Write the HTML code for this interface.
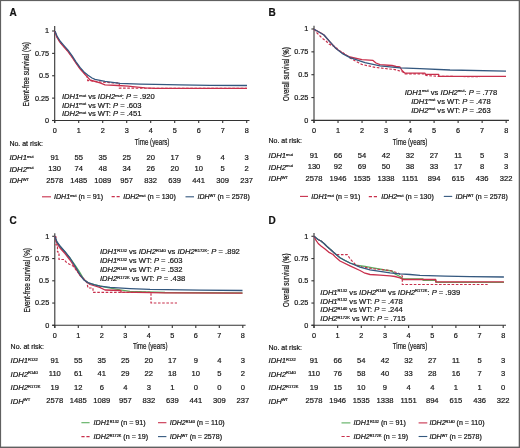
<!DOCTYPE html>
<html><head><meta charset="utf-8"><style>
html,body{margin:0;padding:0;background:#fff;}
#fig{position:relative;width:520px;height:448px;overflow:hidden;background:#fff;}
svg{position:absolute;left:0;top:0;filter:blur(0.3px);}
text{font-family:"Liberation Sans", sans-serif;stroke:#151515;stroke-width:0.2px;}
</style></head><body><div id="fig">
<svg width="520" height="448" viewBox="0 0 520 448">
<text x="9.4" y="16.4" font-size="10" font-weight="bold" fill="#111">A</text>
<line x1="54.7" y1="26.0" x2="54.7" y2="123.1" stroke="#333333" stroke-width="1.1"/>
<line x1="52.1" y1="120.5" x2="249.5" y2="120.5" stroke="#333333" stroke-width="1.1"/>
<line x1="52.1" y1="120.5" x2="54.7" y2="120.5" stroke="#333333" stroke-width="1.1"/>
<text x="49.1" y="122.90" font-size="7.3" text-anchor="end" fill="#151515">0</text>
<line x1="52.1" y1="98.125" x2="54.7" y2="98.125" stroke="#333333" stroke-width="1.1"/>
<text x="49.1" y="100.53" font-size="7.3" text-anchor="end" fill="#151515">0.25</text>
<line x1="52.1" y1="75.75" x2="54.7" y2="75.75" stroke="#333333" stroke-width="1.1"/>
<text x="49.1" y="78.15" font-size="7.3" text-anchor="end" fill="#151515">0.5</text>
<line x1="52.1" y1="53.375" x2="54.7" y2="53.375" stroke="#333333" stroke-width="1.1"/>
<text x="49.1" y="55.77" font-size="7.3" text-anchor="end" fill="#151515">0.75</text>
<line x1="52.1" y1="31.0" x2="54.7" y2="31.0" stroke="#333333" stroke-width="1.1"/>
<text x="49.1" y="33.40" font-size="7.3" text-anchor="end" fill="#151515">1</text>
<line x1="54.7" y1="120.5" x2="54.7" y2="123.1" stroke="#333333" stroke-width="1.1"/>
<text x="54.70" y="132.90" font-size="7.3" text-anchor="middle" fill="#151515">0</text>
<line x1="78.7" y1="120.5" x2="78.7" y2="123.1" stroke="#333333" stroke-width="1.1"/>
<text x="78.70" y="132.90" font-size="7.3" text-anchor="middle" fill="#151515">1</text>
<line x1="102.7" y1="120.5" x2="102.7" y2="123.1" stroke="#333333" stroke-width="1.1"/>
<text x="102.70" y="132.90" font-size="7.3" text-anchor="middle" fill="#151515">2</text>
<line x1="126.7" y1="120.5" x2="126.7" y2="123.1" stroke="#333333" stroke-width="1.1"/>
<text x="126.70" y="132.90" font-size="7.3" text-anchor="middle" fill="#151515">3</text>
<line x1="150.7" y1="120.5" x2="150.7" y2="123.1" stroke="#333333" stroke-width="1.1"/>
<text x="150.70" y="132.90" font-size="7.3" text-anchor="middle" fill="#151515">4</text>
<line x1="174.7" y1="120.5" x2="174.7" y2="123.1" stroke="#333333" stroke-width="1.1"/>
<text x="174.70" y="132.90" font-size="7.3" text-anchor="middle" fill="#151515">5</text>
<line x1="198.7" y1="120.5" x2="198.7" y2="123.1" stroke="#333333" stroke-width="1.1"/>
<text x="198.70" y="132.90" font-size="7.3" text-anchor="middle" fill="#151515">6</text>
<line x1="222.7" y1="120.5" x2="222.7" y2="123.1" stroke="#333333" stroke-width="1.1"/>
<text x="222.70" y="132.90" font-size="7.3" text-anchor="middle" fill="#151515">7</text>
<line x1="246.7" y1="120.5" x2="246.7" y2="123.1" stroke="#333333" stroke-width="1.1"/>
<text x="246.70" y="132.90" font-size="7.3" text-anchor="middle" fill="#151515">8</text>
<text transform="translate(29.40,74.25) rotate(-90)" font-size="8.2" text-anchor="middle" fill="#151515" stroke="#151515" stroke-width="0.2" textLength="64.5" lengthAdjust="spacingAndGlyphs">Event-free survival (%)</text>
<text x="152.10" y="144.60" font-size="8.5" text-anchor="middle" fill="#151515" stroke="#151515" stroke-width="0.2" textLength="34.6" lengthAdjust="spacingAndGlyphs">Time (years)</text>
<polyline points="55.0,31.3 57.0,36.9 60.0,41.9 64.0,46.5 68.0,51.1 72.0,56.6 76.0,62.7 80.0,68.3 84.0,72.8 87.0,76.0 87.7,80.7 90.0,80.7 100.0,82.0 112.0,82.8 119.3,83.0 119.3,88.2 247.0,88.4" fill="none" stroke="#c8304c" stroke-width="1.2" stroke-linejoin="round" stroke-dasharray="2.6,1.6"/>
<polyline points="55.0,31.3 56.0,35.0 57.0,37.4 60.0,42.4 64.0,47.0 68.0,51.6 72.0,57.1 76.0,63.2 80.0,68.8 84.0,73.3 86.0,75.6 88.0,77.6 90.0,80.0 100.0,82.8 105.0,84.8 118.0,85.5 128.0,86.1 135.0,86.8 145.0,87.9 155.0,88.4 247.0,88.4" fill="none" stroke="#c8304c" stroke-width="1.3" stroke-linejoin="round"/>
<polyline points="55.0,31.3 57.0,36.0 60.0,41.0 64.0,45.6 68.0,50.2 72.0,55.7 76.0,61.8 80.0,67.4 84.0,71.9 88.0,75.3 92.0,78.0 95.0,79.4 105.0,81.4 120.0,83.4 140.0,84.1 155.0,84.4 180.0,84.9 210.0,85.3 247.0,85.5" fill="none" stroke="#34587f" stroke-width="1.3" stroke-linejoin="round"/>
<text x="62" y="99.0" font-size="7.6" text-anchor="start" fill="#151515"><tspan font-style="italic">IDH1</tspan><tspan font-size="4.03" dy="-2.28">mut</tspan><tspan dy="2.28"> vs </tspan><tspan font-style="italic">IDH2</tspan><tspan font-size="4.03" dy="-2.28">mut</tspan><tspan dy="2.28">: </tspan><tspan font-style="italic">P</tspan><tspan> = .920</tspan></text>
<text x="62" y="107.5" font-size="7.6" text-anchor="start" fill="#151515"><tspan font-style="italic">IDH1</tspan><tspan font-size="4.03" dy="-2.28">mut</tspan><tspan dy="2.28"> vs WT: </tspan><tspan font-style="italic">P</tspan><tspan> = .603</tspan></text>
<text x="62" y="116.2" font-size="7.6" text-anchor="start" fill="#151515"><tspan font-style="italic">IDH2</tspan><tspan font-size="4.03" dy="-2.28">mut</tspan><tspan dy="2.28"> vs WT: </tspan><tspan font-style="italic">P</tspan><tspan> = .451</tspan></text>
<text x="9.4" y="146.2" font-size="7" fill="#151515">No. at risk:</text>
<text x="9.4" y="160.1" font-size="7.7" text-anchor="start" fill="#151515"><tspan font-style="italic">IDH1</tspan><tspan font-size="4.08" dy="-2.31">mut</tspan></text>
<text x="54.70" y="159.50" font-size="7.6" text-anchor="middle" fill="#151515">91</text>
<text x="78.70" y="159.50" font-size="7.6" text-anchor="middle" fill="#151515">55</text>
<text x="102.70" y="159.50" font-size="7.6" text-anchor="middle" fill="#151515">35</text>
<text x="126.70" y="159.50" font-size="7.6" text-anchor="middle" fill="#151515">25</text>
<text x="150.70" y="159.50" font-size="7.6" text-anchor="middle" fill="#151515">20</text>
<text x="174.70" y="159.50" font-size="7.6" text-anchor="middle" fill="#151515">17</text>
<text x="198.70" y="159.50" font-size="7.6" text-anchor="middle" fill="#151515">9</text>
<text x="222.70" y="159.50" font-size="7.6" text-anchor="middle" fill="#151515">4</text>
<text x="246.70" y="159.50" font-size="7.6" text-anchor="middle" fill="#151515">3</text>
<text x="9.4" y="171.65" font-size="7.7" text-anchor="start" fill="#151515"><tspan font-style="italic">IDH2</tspan><tspan font-size="4.08" dy="-2.31">mut</tspan></text>
<text x="54.70" y="171.05" font-size="7.6" text-anchor="middle" fill="#151515">130</text>
<text x="78.70" y="171.05" font-size="7.6" text-anchor="middle" fill="#151515">74</text>
<text x="102.70" y="171.05" font-size="7.6" text-anchor="middle" fill="#151515">48</text>
<text x="126.70" y="171.05" font-size="7.6" text-anchor="middle" fill="#151515">34</text>
<text x="150.70" y="171.05" font-size="7.6" text-anchor="middle" fill="#151515">26</text>
<text x="174.70" y="171.05" font-size="7.6" text-anchor="middle" fill="#151515">20</text>
<text x="198.70" y="171.05" font-size="7.6" text-anchor="middle" fill="#151515">10</text>
<text x="222.70" y="171.05" font-size="7.6" text-anchor="middle" fill="#151515">5</text>
<text x="246.70" y="171.05" font-size="7.6" text-anchor="middle" fill="#151515">2</text>
<text x="9.4" y="183.2" font-size="7.7" text-anchor="start" fill="#151515"><tspan font-style="italic">IDH</tspan><tspan font-size="4.08" dy="-2.31">WT</tspan></text>
<text x="54.70" y="182.60" font-size="7.6" text-anchor="middle" fill="#151515">2578</text>
<text x="78.70" y="182.60" font-size="7.6" text-anchor="middle" fill="#151515">1485</text>
<text x="102.70" y="182.60" font-size="7.6" text-anchor="middle" fill="#151515">1089</text>
<text x="126.70" y="182.60" font-size="7.6" text-anchor="middle" fill="#151515">957</text>
<text x="150.70" y="182.60" font-size="7.6" text-anchor="middle" fill="#151515">832</text>
<text x="174.70" y="182.60" font-size="7.6" text-anchor="middle" fill="#151515">639</text>
<text x="198.70" y="182.60" font-size="7.6" text-anchor="middle" fill="#151515">441</text>
<text x="222.70" y="182.60" font-size="7.6" text-anchor="middle" fill="#151515">309</text>
<text x="246.70" y="182.60" font-size="7.6" text-anchor="middle" fill="#151515">237</text>
<text x="268.5" y="16.4" font-size="10" font-weight="bold" fill="#111">B</text>
<line x1="314.0" y1="25.8" x2="314.0" y2="123.0" stroke="#333333" stroke-width="1.1"/>
<line x1="311.4" y1="120.4" x2="508.96" y2="120.4" stroke="#333333" stroke-width="1.1"/>
<line x1="311.4" y1="120.4" x2="314.0" y2="120.4" stroke="#333333" stroke-width="1.1"/>
<text x="308.4" y="122.80" font-size="7.3" text-anchor="end" fill="#151515">0</text>
<line x1="311.4" y1="97.55000000000001" x2="314.0" y2="97.55000000000001" stroke="#333333" stroke-width="1.1"/>
<text x="308.4" y="99.95" font-size="7.3" text-anchor="end" fill="#151515">0.25</text>
<line x1="311.4" y1="74.7" x2="314.0" y2="74.7" stroke="#333333" stroke-width="1.1"/>
<text x="308.4" y="77.10" font-size="7.3" text-anchor="end" fill="#151515">0.5</text>
<line x1="311.4" y1="51.849999999999994" x2="314.0" y2="51.849999999999994" stroke="#333333" stroke-width="1.1"/>
<text x="308.4" y="54.25" font-size="7.3" text-anchor="end" fill="#151515">0.75</text>
<line x1="311.4" y1="29.0" x2="314.0" y2="29.0" stroke="#333333" stroke-width="1.1"/>
<text x="308.4" y="31.40" font-size="7.3" text-anchor="end" fill="#151515">1</text>
<line x1="314.0" y1="120.4" x2="314.0" y2="123.0" stroke="#333333" stroke-width="1.1"/>
<text x="314.00" y="132.80" font-size="7.3" text-anchor="middle" fill="#151515">0</text>
<line x1="338.02" y1="120.4" x2="338.02" y2="123.0" stroke="#333333" stroke-width="1.1"/>
<text x="338.02" y="132.80" font-size="7.3" text-anchor="middle" fill="#151515">1</text>
<line x1="362.04" y1="120.4" x2="362.04" y2="123.0" stroke="#333333" stroke-width="1.1"/>
<text x="362.04" y="132.80" font-size="7.3" text-anchor="middle" fill="#151515">2</text>
<line x1="386.06" y1="120.4" x2="386.06" y2="123.0" stroke="#333333" stroke-width="1.1"/>
<text x="386.06" y="132.80" font-size="7.3" text-anchor="middle" fill="#151515">3</text>
<line x1="410.08" y1="120.4" x2="410.08" y2="123.0" stroke="#333333" stroke-width="1.1"/>
<text x="410.08" y="132.80" font-size="7.3" text-anchor="middle" fill="#151515">4</text>
<line x1="434.1" y1="120.4" x2="434.1" y2="123.0" stroke="#333333" stroke-width="1.1"/>
<text x="434.10" y="132.80" font-size="7.3" text-anchor="middle" fill="#151515">5</text>
<line x1="458.12" y1="120.4" x2="458.12" y2="123.0" stroke="#333333" stroke-width="1.1"/>
<text x="458.12" y="132.80" font-size="7.3" text-anchor="middle" fill="#151515">6</text>
<line x1="482.14" y1="120.4" x2="482.14" y2="123.0" stroke="#333333" stroke-width="1.1"/>
<text x="482.14" y="132.80" font-size="7.3" text-anchor="middle" fill="#151515">7</text>
<line x1="506.15999999999997" y1="120.4" x2="506.15999999999997" y2="123.0" stroke="#333333" stroke-width="1.1"/>
<text x="506.16" y="132.80" font-size="7.3" text-anchor="middle" fill="#151515">8</text>
<text transform="translate(288.70,74.10) rotate(-90)" font-size="8.2" text-anchor="middle" fill="#151515" stroke="#151515" stroke-width="0.2" textLength="53.7" lengthAdjust="spacingAndGlyphs">Overall survival (%)</text>
<text x="410.08" y="144.50" font-size="8.5" text-anchor="middle" fill="#151515" stroke="#151515" stroke-width="0.2" textLength="34.6" lengthAdjust="spacingAndGlyphs">Time (years)</text>
<polyline points="314.0,29.2 317.0,33.0 320.0,36.0 322.0,38.0 326.0,41.0 329.0,44.0 333.0,46.0 336.0,47.0 338.0,50.0 342.0,52.0 346.0,55.0 350.0,58.0 362.0,64.5 375.0,67.3 385.0,68.5 395.0,69.6 400.0,71.0 403.0,72.0 405.0,73.9 425.0,73.9 426.0,75.5 439.0,76.4 480.0,76.6" fill="none" stroke="#c8304c" stroke-width="1.2" stroke-linejoin="round" stroke-dasharray="2.6,1.6"/>
<polyline points="314.0,29.2 321.0,33.0 324.0,35.0 330.0,42.0 336.0,48.5 343.0,53.5 350.0,57.0 362.0,59.6 373.0,60.4 376.0,63.0 380.0,64.7 392.0,65.5 396.0,66.5 400.0,67.0 402.0,70.5 405.0,73.2 425.0,73.2 425.4,74.3 438.7,74.3 438.7,76.4 506.0,76.4" fill="none" stroke="#c8304c" stroke-width="1.3" stroke-linejoin="round"/>
<polyline points="314.0,29.2 321.0,33.2 324.0,35.0 330.0,41.9 336.0,48.6 343.0,53.9 350.0,57.6 365.0,62.7 380.0,65.8 400.0,67.8 420.0,68.6 450.0,70.0 506.0,71.1" fill="none" stroke="#34587f" stroke-width="1.3" stroke-linejoin="round"/>
<text x="451" y="94.6" font-size="7.6" text-anchor="middle" fill="#151515"><tspan font-style="italic">IDH1</tspan><tspan font-size="4.03" dy="-2.28">mut</tspan><tspan dy="2.28"> vs </tspan><tspan font-style="italic">IDH2</tspan><tspan font-size="4.03" dy="-2.28">mut</tspan><tspan dy="2.28">: </tspan><tspan font-style="italic">P</tspan><tspan> = .778</tspan></text>
<text x="451" y="103.6" font-size="7.6" text-anchor="middle" fill="#151515"><tspan font-style="italic">IDH1</tspan><tspan font-size="4.03" dy="-2.28">mut</tspan><tspan dy="2.28"> vs WT: </tspan><tspan font-style="italic">P</tspan><tspan> = .478</tspan></text>
<text x="451" y="112.6" font-size="7.6" text-anchor="middle" fill="#151515"><tspan font-style="italic">IDH2</tspan><tspan font-size="4.03" dy="-2.28">mut</tspan><tspan dy="2.28"> vs WT: </tspan><tspan font-style="italic">P</tspan><tspan> = .263</tspan></text>
<text x="268.5" y="143.2" font-size="7" fill="#151515">No. at risk:</text>
<text x="268.5" y="158.2" font-size="7.7" text-anchor="start" fill="#151515"><tspan font-style="italic">IDH1</tspan><tspan font-size="4.08" dy="-2.31">mut</tspan></text>
<text x="314.00" y="157.60" font-size="7.6" text-anchor="middle" fill="#151515">91</text>
<text x="338.02" y="157.60" font-size="7.6" text-anchor="middle" fill="#151515">66</text>
<text x="362.04" y="157.60" font-size="7.6" text-anchor="middle" fill="#151515">54</text>
<text x="386.06" y="157.60" font-size="7.6" text-anchor="middle" fill="#151515">42</text>
<text x="410.08" y="157.60" font-size="7.6" text-anchor="middle" fill="#151515">32</text>
<text x="434.10" y="157.60" font-size="7.6" text-anchor="middle" fill="#151515">27</text>
<text x="458.12" y="157.60" font-size="7.6" text-anchor="middle" fill="#151515">11</text>
<text x="482.14" y="157.60" font-size="7.6" text-anchor="middle" fill="#151515">5</text>
<text x="506.16" y="157.60" font-size="7.6" text-anchor="middle" fill="#151515">3</text>
<text x="268.5" y="169.7" font-size="7.7" text-anchor="start" fill="#151515"><tspan font-style="italic">IDH2</tspan><tspan font-size="4.08" dy="-2.31">mut</tspan></text>
<text x="314.00" y="169.10" font-size="7.6" text-anchor="middle" fill="#151515">130</text>
<text x="338.02" y="169.10" font-size="7.6" text-anchor="middle" fill="#151515">92</text>
<text x="362.04" y="169.10" font-size="7.6" text-anchor="middle" fill="#151515">69</text>
<text x="386.06" y="169.10" font-size="7.6" text-anchor="middle" fill="#151515">50</text>
<text x="410.08" y="169.10" font-size="7.6" text-anchor="middle" fill="#151515">38</text>
<text x="434.10" y="169.10" font-size="7.6" text-anchor="middle" fill="#151515">33</text>
<text x="458.12" y="169.10" font-size="7.6" text-anchor="middle" fill="#151515">17</text>
<text x="482.14" y="169.10" font-size="7.6" text-anchor="middle" fill="#151515">8</text>
<text x="506.16" y="169.10" font-size="7.6" text-anchor="middle" fill="#151515">3</text>
<text x="268.5" y="181.2" font-size="7.7" text-anchor="start" fill="#151515"><tspan font-style="italic">IDH</tspan><tspan font-size="4.08" dy="-2.31">WT</tspan></text>
<text x="314.00" y="180.60" font-size="7.6" text-anchor="middle" fill="#151515">2578</text>
<text x="338.02" y="180.60" font-size="7.6" text-anchor="middle" fill="#151515">1946</text>
<text x="362.04" y="180.60" font-size="7.6" text-anchor="middle" fill="#151515">1535</text>
<text x="386.06" y="180.60" font-size="7.6" text-anchor="middle" fill="#151515">1338</text>
<text x="410.08" y="180.60" font-size="7.6" text-anchor="middle" fill="#151515">1151</text>
<text x="434.10" y="180.60" font-size="7.6" text-anchor="middle" fill="#151515">894</text>
<text x="458.12" y="180.60" font-size="7.6" text-anchor="middle" fill="#151515">615</text>
<text x="482.14" y="180.60" font-size="7.6" text-anchor="middle" fill="#151515">436</text>
<text x="506.16" y="180.60" font-size="7.6" text-anchor="middle" fill="#151515">322</text>
<text x="9.4" y="223.5" font-size="10" font-weight="bold" fill="#111">C</text>
<line x1="54.8" y1="233.3" x2="54.8" y2="327.90000000000003" stroke="#333333" stroke-width="1.1"/>
<line x1="52.199999999999996" y1="325.3" x2="245.60000000000002" y2="325.3" stroke="#333333" stroke-width="1.1"/>
<line x1="52.199999999999996" y1="325.3" x2="54.8" y2="325.3" stroke="#333333" stroke-width="1.1"/>
<text x="49.199999999999996" y="327.70" font-size="7.3" text-anchor="end" fill="#151515">0</text>
<line x1="52.199999999999996" y1="303.05" x2="54.8" y2="303.05" stroke="#333333" stroke-width="1.1"/>
<text x="49.199999999999996" y="305.45" font-size="7.3" text-anchor="end" fill="#151515">0.25</text>
<line x1="52.199999999999996" y1="280.8" x2="54.8" y2="280.8" stroke="#333333" stroke-width="1.1"/>
<text x="49.199999999999996" y="283.20" font-size="7.3" text-anchor="end" fill="#151515">0.5</text>
<line x1="52.199999999999996" y1="258.55" x2="54.8" y2="258.55" stroke="#333333" stroke-width="1.1"/>
<text x="49.199999999999996" y="260.95" font-size="7.3" text-anchor="end" fill="#151515">0.75</text>
<line x1="52.199999999999996" y1="236.3" x2="54.8" y2="236.3" stroke="#333333" stroke-width="1.1"/>
<text x="49.199999999999996" y="238.70" font-size="7.3" text-anchor="end" fill="#151515">1</text>
<line x1="54.8" y1="325.3" x2="54.8" y2="327.90000000000003" stroke="#333333" stroke-width="1.1"/>
<text x="54.80" y="337.70" font-size="7.3" text-anchor="middle" fill="#151515">0</text>
<line x1="78.3" y1="325.3" x2="78.3" y2="327.90000000000003" stroke="#333333" stroke-width="1.1"/>
<text x="78.30" y="337.70" font-size="7.3" text-anchor="middle" fill="#151515">1</text>
<line x1="101.8" y1="325.3" x2="101.8" y2="327.90000000000003" stroke="#333333" stroke-width="1.1"/>
<text x="101.80" y="337.70" font-size="7.3" text-anchor="middle" fill="#151515">2</text>
<line x1="125.3" y1="325.3" x2="125.3" y2="327.90000000000003" stroke="#333333" stroke-width="1.1"/>
<text x="125.30" y="337.70" font-size="7.3" text-anchor="middle" fill="#151515">3</text>
<line x1="148.8" y1="325.3" x2="148.8" y2="327.90000000000003" stroke="#333333" stroke-width="1.1"/>
<text x="148.80" y="337.70" font-size="7.3" text-anchor="middle" fill="#151515">4</text>
<line x1="172.3" y1="325.3" x2="172.3" y2="327.90000000000003" stroke="#333333" stroke-width="1.1"/>
<text x="172.30" y="337.70" font-size="7.3" text-anchor="middle" fill="#151515">5</text>
<line x1="195.8" y1="325.3" x2="195.8" y2="327.90000000000003" stroke="#333333" stroke-width="1.1"/>
<text x="195.80" y="337.70" font-size="7.3" text-anchor="middle" fill="#151515">6</text>
<line x1="219.3" y1="325.3" x2="219.3" y2="327.90000000000003" stroke="#333333" stroke-width="1.1"/>
<text x="219.30" y="337.70" font-size="7.3" text-anchor="middle" fill="#151515">7</text>
<line x1="242.8" y1="325.3" x2="242.8" y2="327.90000000000003" stroke="#333333" stroke-width="1.1"/>
<text x="242.80" y="337.70" font-size="7.3" text-anchor="middle" fill="#151515">8</text>
<text transform="translate(29.50,280.30) rotate(-90)" font-size="8.2" text-anchor="middle" fill="#151515" stroke="#151515" stroke-width="0.2" textLength="64.5" lengthAdjust="spacingAndGlyphs">Event-free survival (%)</text>
<text x="150.20" y="349.40" font-size="8.5" text-anchor="middle" fill="#151515" stroke="#151515" stroke-width="0.2" textLength="34.6" lengthAdjust="spacingAndGlyphs">Time (years)</text>
<polyline points="54.8,236.3 57.0,242.5 60.0,246.5 65.0,252.0 70.0,258.2 75.0,265.2 79.0,271.0 84.0,279.5 88.0,282.8 95.0,284.8 105.0,287.2 120.0,289.8 130.0,291.3 165.0,292.5 242.5,293.0" fill="none" stroke="#5aae5e" stroke-width="1.3" stroke-linejoin="round"/>
<polyline points="54.8,236.3 57.0,243.5 60.0,248.0 65.0,253.5 70.0,260.0 75.0,267.5 80.0,275.5 85.0,280.5 90.0,284.5 95.0,286.0 99.7,287.4 105.0,290.0 121.0,290.5 121.0,292.1 165.0,292.8 242.5,293.2" fill="none" stroke="#c8304c" stroke-width="1.3" stroke-linejoin="round"/>
<polyline points="54.8,236.3 56.0,236.8 56.0,245.0 57.5,245.0 57.5,252.0 59.0,252.0 59.0,259.5 64.0,259.5 66.0,262.0 69.0,264.0 73.0,266.0 77.0,271.0 80.0,275.0 84.0,279.0 87.0,283.0 88.0,288.0 93.0,288.0 93.0,292.3 151.0,292.3 151.0,303.0 177.0,303.0" fill="none" stroke="#c8304c" stroke-width="1.2" stroke-linejoin="round" stroke-dasharray="2.6,1.6"/>
<polyline points="54.8,236.3 57.0,242.0 60.0,246.0 65.0,251.7 70.0,258.0 75.0,266.0 80.0,274.6 84.0,280.0 88.0,282.6 94.0,284.6 100.0,286.2 110.0,287.4 130.0,288.6 150.0,289.4 200.0,290.2 242.5,290.5" fill="none" stroke="#34587f" stroke-width="1.3" stroke-linejoin="round"/>
<text x="100" y="254.4" font-size="7.6" text-anchor="start" fill="#151515"><tspan font-style="italic">IDH1</tspan><tspan font-size="4.03" dy="-2.28">R132</tspan><tspan dy="2.28"> vs </tspan><tspan font-style="italic">IDH2</tspan><tspan font-size="4.03" dy="-2.28">R140</tspan><tspan dy="2.28"> vs </tspan><tspan font-style="italic">IDH2</tspan><tspan font-size="4.03" dy="-2.28">R172K</tspan><tspan dy="2.28">: </tspan><tspan font-style="italic">P</tspan><tspan> = .892</tspan></text>
<text x="100" y="263.1" font-size="7.6" text-anchor="start" fill="#151515"><tspan font-style="italic">IDH1</tspan><tspan font-size="4.03" dy="-2.28">R132</tspan><tspan dy="2.28"> vs WT: </tspan><tspan font-style="italic">P</tspan><tspan> = .603</tspan></text>
<text x="100" y="272.0" font-size="7.6" text-anchor="start" fill="#151515"><tspan font-style="italic">IDH2</tspan><tspan font-size="4.03" dy="-2.28">R140</tspan><tspan dy="2.28"> vs WT: </tspan><tspan font-style="italic">P</tspan><tspan> = .532</tspan></text>
<text x="100" y="280.8" font-size="7.6" text-anchor="start" fill="#151515"><tspan font-style="italic">IDH2</tspan><tspan font-size="4.03" dy="-2.28">R172K</tspan><tspan dy="2.28"> vs WT: </tspan><tspan font-style="italic">P</tspan><tspan> = .438</tspan></text>
<text x="10.6" y="349.4" font-size="7" fill="#151515">No. at risk:</text>
<text x="10.6" y="363.40000000000003" font-size="7.7" text-anchor="start" fill="#151515"><tspan font-style="italic">IDH1</tspan><tspan font-size="4.08" dy="-2.31">R132</tspan></text>
<text x="54.80" y="362.80" font-size="7.6" text-anchor="middle" fill="#151515">91</text>
<text x="78.30" y="362.80" font-size="7.6" text-anchor="middle" fill="#151515">55</text>
<text x="101.80" y="362.80" font-size="7.6" text-anchor="middle" fill="#151515">35</text>
<text x="125.30" y="362.80" font-size="7.6" text-anchor="middle" fill="#151515">25</text>
<text x="148.80" y="362.80" font-size="7.6" text-anchor="middle" fill="#151515">20</text>
<text x="172.30" y="362.80" font-size="7.6" text-anchor="middle" fill="#151515">17</text>
<text x="195.80" y="362.80" font-size="7.6" text-anchor="middle" fill="#151515">9</text>
<text x="219.30" y="362.80" font-size="7.6" text-anchor="middle" fill="#151515">4</text>
<text x="242.80" y="362.80" font-size="7.6" text-anchor="middle" fill="#151515">3</text>
<text x="10.6" y="376.8" font-size="7.7" text-anchor="start" fill="#151515"><tspan font-style="italic">IDH2</tspan><tspan font-size="4.08" dy="-2.31">R140</tspan></text>
<text x="54.80" y="376.20" font-size="7.6" text-anchor="middle" fill="#151515">110</text>
<text x="78.30" y="376.20" font-size="7.6" text-anchor="middle" fill="#151515">61</text>
<text x="101.80" y="376.20" font-size="7.6" text-anchor="middle" fill="#151515">41</text>
<text x="125.30" y="376.20" font-size="7.6" text-anchor="middle" fill="#151515">29</text>
<text x="148.80" y="376.20" font-size="7.6" text-anchor="middle" fill="#151515">22</text>
<text x="172.30" y="376.20" font-size="7.6" text-anchor="middle" fill="#151515">18</text>
<text x="195.80" y="376.20" font-size="7.6" text-anchor="middle" fill="#151515">10</text>
<text x="219.30" y="376.20" font-size="7.6" text-anchor="middle" fill="#151515">5</text>
<text x="242.80" y="376.20" font-size="7.6" text-anchor="middle" fill="#151515">2</text>
<text x="10.6" y="390.20000000000005" font-size="7.7" text-anchor="start" fill="#151515"><tspan font-style="italic">IDH2</tspan><tspan font-size="4.08" dy="-2.31">R172K</tspan></text>
<text x="54.80" y="389.60" font-size="7.6" text-anchor="middle" fill="#151515">19</text>
<text x="78.30" y="389.60" font-size="7.6" text-anchor="middle" fill="#151515">12</text>
<text x="101.80" y="389.60" font-size="7.6" text-anchor="middle" fill="#151515">6</text>
<text x="125.30" y="389.60" font-size="7.6" text-anchor="middle" fill="#151515">4</text>
<text x="148.80" y="389.60" font-size="7.6" text-anchor="middle" fill="#151515">3</text>
<text x="172.30" y="389.60" font-size="7.6" text-anchor="middle" fill="#151515">1</text>
<text x="195.80" y="389.60" font-size="7.6" text-anchor="middle" fill="#151515">0</text>
<text x="219.30" y="389.60" font-size="7.6" text-anchor="middle" fill="#151515">0</text>
<text x="242.80" y="389.60" font-size="7.6" text-anchor="middle" fill="#151515">0</text>
<text x="10.6" y="403.6" font-size="7.7" text-anchor="start" fill="#151515"><tspan font-style="italic">IDH</tspan><tspan font-size="4.08" dy="-2.31">WT</tspan></text>
<text x="54.80" y="403.00" font-size="7.6" text-anchor="middle" fill="#151515">2578</text>
<text x="78.30" y="403.00" font-size="7.6" text-anchor="middle" fill="#151515">1485</text>
<text x="101.80" y="403.00" font-size="7.6" text-anchor="middle" fill="#151515">1089</text>
<text x="125.30" y="403.00" font-size="7.6" text-anchor="middle" fill="#151515">957</text>
<text x="148.80" y="403.00" font-size="7.6" text-anchor="middle" fill="#151515">832</text>
<text x="172.30" y="403.00" font-size="7.6" text-anchor="middle" fill="#151515">639</text>
<text x="195.80" y="403.00" font-size="7.6" text-anchor="middle" fill="#151515">441</text>
<text x="219.30" y="403.00" font-size="7.6" text-anchor="middle" fill="#151515">309</text>
<text x="242.80" y="403.00" font-size="7.6" text-anchor="middle" fill="#151515">237</text>
<text x="268.5" y="223.5" font-size="10" font-weight="bold" fill="#111">D</text>
<line x1="314.0" y1="233.1" x2="314.0" y2="327.90000000000003" stroke="#333333" stroke-width="1.1"/>
<line x1="311.4" y1="325.3" x2="506.0" y2="325.3" stroke="#333333" stroke-width="1.1"/>
<line x1="311.4" y1="325.3" x2="314.0" y2="325.3" stroke="#333333" stroke-width="1.1"/>
<text x="308.4" y="327.70" font-size="7.3" text-anchor="end" fill="#151515">0</text>
<line x1="311.4" y1="303.05" x2="314.0" y2="303.05" stroke="#333333" stroke-width="1.1"/>
<text x="308.4" y="305.45" font-size="7.3" text-anchor="end" fill="#151515">0.25</text>
<line x1="311.4" y1="280.8" x2="314.0" y2="280.8" stroke="#333333" stroke-width="1.1"/>
<text x="308.4" y="283.20" font-size="7.3" text-anchor="end" fill="#151515">0.5</text>
<line x1="311.4" y1="258.55" x2="314.0" y2="258.55" stroke="#333333" stroke-width="1.1"/>
<text x="308.4" y="260.95" font-size="7.3" text-anchor="end" fill="#151515">0.75</text>
<line x1="311.4" y1="236.3" x2="314.0" y2="236.3" stroke="#333333" stroke-width="1.1"/>
<text x="308.4" y="238.70" font-size="7.3" text-anchor="end" fill="#151515">1</text>
<line x1="314.0" y1="325.3" x2="314.0" y2="327.90000000000003" stroke="#333333" stroke-width="1.1"/>
<text x="314.00" y="337.70" font-size="7.3" text-anchor="middle" fill="#151515">0</text>
<line x1="337.65" y1="325.3" x2="337.65" y2="327.90000000000003" stroke="#333333" stroke-width="1.1"/>
<text x="337.65" y="337.70" font-size="7.3" text-anchor="middle" fill="#151515">1</text>
<line x1="361.3" y1="325.3" x2="361.3" y2="327.90000000000003" stroke="#333333" stroke-width="1.1"/>
<text x="361.30" y="337.70" font-size="7.3" text-anchor="middle" fill="#151515">2</text>
<line x1="384.95" y1="325.3" x2="384.95" y2="327.90000000000003" stroke="#333333" stroke-width="1.1"/>
<text x="384.95" y="337.70" font-size="7.3" text-anchor="middle" fill="#151515">3</text>
<line x1="408.6" y1="325.3" x2="408.6" y2="327.90000000000003" stroke="#333333" stroke-width="1.1"/>
<text x="408.60" y="337.70" font-size="7.3" text-anchor="middle" fill="#151515">4</text>
<line x1="432.25" y1="325.3" x2="432.25" y2="327.90000000000003" stroke="#333333" stroke-width="1.1"/>
<text x="432.25" y="337.70" font-size="7.3" text-anchor="middle" fill="#151515">5</text>
<line x1="455.9" y1="325.3" x2="455.9" y2="327.90000000000003" stroke="#333333" stroke-width="1.1"/>
<text x="455.90" y="337.70" font-size="7.3" text-anchor="middle" fill="#151515">6</text>
<line x1="479.54999999999995" y1="325.3" x2="479.54999999999995" y2="327.90000000000003" stroke="#333333" stroke-width="1.1"/>
<text x="479.55" y="337.70" font-size="7.3" text-anchor="middle" fill="#151515">7</text>
<line x1="503.2" y1="325.3" x2="503.2" y2="327.90000000000003" stroke="#333333" stroke-width="1.1"/>
<text x="503.20" y="337.70" font-size="7.3" text-anchor="middle" fill="#151515">8</text>
<text transform="translate(288.70,280.20) rotate(-90)" font-size="8.2" text-anchor="middle" fill="#151515" stroke="#151515" stroke-width="0.2" textLength="53.7" lengthAdjust="spacingAndGlyphs">Overall survival (%)</text>
<text x="410.00" y="349.40" font-size="8.5" text-anchor="middle" fill="#151515" stroke="#151515" stroke-width="0.2" textLength="34.6" lengthAdjust="spacingAndGlyphs">Time (years)</text>
<polyline points="314.0,236.3 318.0,239.5 321.0,241.0 324.0,243.5 327.0,246.5 330.5,249.6 334.0,252.7 337.0,255.2 340.0,257.7 345.0,260.5 350.0,263.0 358.0,265.5 365.0,266.4 373.0,267.8 385.0,270.0 392.0,271.0 395.0,274.0 400.0,276.5 403.0,278.8 423.0,278.8 423.0,280.3 436.0,280.3 436.0,282.3 504.0,282.3" fill="none" stroke="#5aae5e" stroke-width="1.3" stroke-linejoin="round"/>
<polyline points="314.0,236.3 315.7,239.8 318.2,243.5 321.0,246.0 325.0,249.0 328.6,252.1 333.0,254.5 336.0,257.6 340.0,261.0 350.0,265.8 360.0,270.5 365.0,273.2 370.0,274.5 380.0,275.2 390.0,275.9 395.0,276.5 400.0,277.9 403.0,279.5 435.7,279.5 435.7,281.9 503.9,281.9" fill="none" stroke="#c8304c" stroke-width="1.3" stroke-linejoin="round"/>
<polyline points="314.0,236.3 318.0,239.5 321.0,241.0 324.0,243.5 327.0,246.5 330.5,249.6 334.0,252.7 336.5,254.7 347.5,254.7 350.0,258.8 353.0,262.0 356.0,265.0 362.0,267.0 375.0,269.0 390.0,270.5 398.0,273.0 402.3,276.0 402.3,284.5 487.7,284.5" fill="none" stroke="#c8304c" stroke-width="1.2" stroke-linejoin="round" stroke-dasharray="2.6,1.6"/>
<polyline points="314.0,236.3 318.0,239.5 321.0,241.0 324.0,243.5 327.0,246.5 330.5,249.6 334.0,252.7 337.0,255.2 340.0,257.7 345.0,260.5 350.0,263.0 360.0,267.1 370.0,269.8 380.0,271.4 390.0,272.8 400.0,273.8 410.0,274.5 420.0,275.3 445.0,276.1 470.0,276.6 503.9,277.0" fill="none" stroke="#34587f" stroke-width="1.3" stroke-linejoin="round"/>
<text x="320.3" y="294.5" font-size="7.6" text-anchor="start" fill="#151515"><tspan font-style="italic">IDH1</tspan><tspan font-size="4.03" dy="-2.28">R132</tspan><tspan dy="2.28"> vs </tspan><tspan font-style="italic">IDH2</tspan><tspan font-size="4.03" dy="-2.28">R140</tspan><tspan dy="2.28"> vs </tspan><tspan font-style="italic">IDH2</tspan><tspan font-size="4.03" dy="-2.28">R172K</tspan><tspan dy="2.28">: </tspan><tspan font-style="italic">P</tspan><tspan> = .939</tspan></text>
<text x="320.3" y="303.5" font-size="7.6" text-anchor="start" fill="#151515"><tspan font-style="italic">IDH1</tspan><tspan font-size="4.03" dy="-2.28">R132</tspan><tspan dy="2.28"> vs WT: </tspan><tspan font-style="italic">P</tspan><tspan> = .478</tspan></text>
<text x="320.3" y="312.4" font-size="7.6" text-anchor="start" fill="#151515"><tspan font-style="italic">IDH2</tspan><tspan font-size="4.03" dy="-2.28">R140</tspan><tspan dy="2.28"> vs WT: </tspan><tspan font-style="italic">P</tspan><tspan> = .244</tspan></text>
<text x="320.3" y="321.4" font-size="7.6" text-anchor="start" fill="#151515"><tspan font-style="italic">IDH2</tspan><tspan font-size="4.03" dy="-2.28">R172K</tspan><tspan dy="2.28"> vs WT: </tspan><tspan font-style="italic">P</tspan><tspan> = .715</tspan></text>
<text x="268.5" y="350.2" font-size="7" fill="#151515">No. at risk:</text>
<text x="268.5" y="363.40000000000003" font-size="7.7" text-anchor="start" fill="#151515"><tspan font-style="italic">IDH1</tspan><tspan font-size="4.08" dy="-2.31">R132</tspan></text>
<text x="314.00" y="362.80" font-size="7.6" text-anchor="middle" fill="#151515">91</text>
<text x="337.65" y="362.80" font-size="7.6" text-anchor="middle" fill="#151515">66</text>
<text x="361.30" y="362.80" font-size="7.6" text-anchor="middle" fill="#151515">54</text>
<text x="384.95" y="362.80" font-size="7.6" text-anchor="middle" fill="#151515">42</text>
<text x="408.60" y="362.80" font-size="7.6" text-anchor="middle" fill="#151515">32</text>
<text x="432.25" y="362.80" font-size="7.6" text-anchor="middle" fill="#151515">27</text>
<text x="455.90" y="362.80" font-size="7.6" text-anchor="middle" fill="#151515">11</text>
<text x="479.55" y="362.80" font-size="7.6" text-anchor="middle" fill="#151515">5</text>
<text x="503.20" y="362.80" font-size="7.6" text-anchor="middle" fill="#151515">3</text>
<text x="268.5" y="376.8" font-size="7.7" text-anchor="start" fill="#151515"><tspan font-style="italic">IDH2</tspan><tspan font-size="4.08" dy="-2.31">R140</tspan></text>
<text x="314.00" y="376.20" font-size="7.6" text-anchor="middle" fill="#151515">110</text>
<text x="337.65" y="376.20" font-size="7.6" text-anchor="middle" fill="#151515">76</text>
<text x="361.30" y="376.20" font-size="7.6" text-anchor="middle" fill="#151515">58</text>
<text x="384.95" y="376.20" font-size="7.6" text-anchor="middle" fill="#151515">40</text>
<text x="408.60" y="376.20" font-size="7.6" text-anchor="middle" fill="#151515">33</text>
<text x="432.25" y="376.20" font-size="7.6" text-anchor="middle" fill="#151515">28</text>
<text x="455.90" y="376.20" font-size="7.6" text-anchor="middle" fill="#151515">16</text>
<text x="479.55" y="376.20" font-size="7.6" text-anchor="middle" fill="#151515">7</text>
<text x="503.20" y="376.20" font-size="7.6" text-anchor="middle" fill="#151515">3</text>
<text x="268.5" y="390.20000000000005" font-size="7.7" text-anchor="start" fill="#151515"><tspan font-style="italic">IDH2</tspan><tspan font-size="4.08" dy="-2.31">R172K</tspan></text>
<text x="314.00" y="389.60" font-size="7.6" text-anchor="middle" fill="#151515">19</text>
<text x="337.65" y="389.60" font-size="7.6" text-anchor="middle" fill="#151515">15</text>
<text x="361.30" y="389.60" font-size="7.6" text-anchor="middle" fill="#151515">10</text>
<text x="384.95" y="389.60" font-size="7.6" text-anchor="middle" fill="#151515">9</text>
<text x="408.60" y="389.60" font-size="7.6" text-anchor="middle" fill="#151515">4</text>
<text x="432.25" y="389.60" font-size="7.6" text-anchor="middle" fill="#151515">4</text>
<text x="455.90" y="389.60" font-size="7.6" text-anchor="middle" fill="#151515">1</text>
<text x="479.55" y="389.60" font-size="7.6" text-anchor="middle" fill="#151515">1</text>
<text x="503.20" y="389.60" font-size="7.6" text-anchor="middle" fill="#151515">0</text>
<text x="268.5" y="403.6" font-size="7.7" text-anchor="start" fill="#151515"><tspan font-style="italic">IDH</tspan><tspan font-size="4.08" dy="-2.31">WT</tspan></text>
<text x="314.00" y="403.00" font-size="7.6" text-anchor="middle" fill="#151515">2578</text>
<text x="337.65" y="403.00" font-size="7.6" text-anchor="middle" fill="#151515">1946</text>
<text x="361.30" y="403.00" font-size="7.6" text-anchor="middle" fill="#151515">1535</text>
<text x="384.95" y="403.00" font-size="7.6" text-anchor="middle" fill="#151515">1338</text>
<text x="408.60" y="403.00" font-size="7.6" text-anchor="middle" fill="#151515">1151</text>
<text x="432.25" y="403.00" font-size="7.6" text-anchor="middle" fill="#151515">894</text>
<text x="455.90" y="403.00" font-size="7.6" text-anchor="middle" fill="#151515">615</text>
<text x="479.55" y="403.00" font-size="7.6" text-anchor="middle" fill="#151515">436</text>
<text x="503.20" y="403.00" font-size="7.6" text-anchor="middle" fill="#151515">322</text>
<line x1="42" y1="196.8" x2="51" y2="196.8" stroke="#c8304c" stroke-width="1.1"/>
<text x="54" y="199.20000000000002" font-size="6.6" text-anchor="start" fill="#151515" textLength="49.1" lengthAdjust="spacingAndGlyphs"><tspan font-style="italic">IDH1</tspan><tspan font-size="3.50" dy="-1.98">mut</tspan><tspan dy="1.98"> (n = 91)</tspan></text>
<line x1="111.6" y1="196.6" x2="119.7" y2="196.6" stroke="#c8304c" stroke-width="1.1" stroke-dasharray="3.2,1.8"/>
<text x="123.2" y="199.0" font-size="6.6" text-anchor="start" fill="#151515" textLength="52.6" lengthAdjust="spacingAndGlyphs"><tspan font-style="italic">IDH2</tspan><tspan font-size="3.50" dy="-1.98">mut</tspan><tspan dy="1.98"> (n = 130)</tspan></text>
<line x1="185.5" y1="196.8" x2="194" y2="196.8" stroke="#34587f" stroke-width="1.1"/>
<text x="197.5" y="199.20000000000002" font-size="6.6" text-anchor="start" fill="#151515" textLength="52.3" lengthAdjust="spacingAndGlyphs"><tspan font-style="italic">IDH</tspan><tspan font-size="3.50" dy="-1.98">WT</tspan><tspan dy="1.98"> (n = 2578)</tspan></text>
<line x1="300" y1="196.4" x2="308" y2="196.4" stroke="#c8304c" stroke-width="1.1"/>
<text x="311.3" y="198.8" font-size="6.6" text-anchor="start" fill="#151515" textLength="49.1" lengthAdjust="spacingAndGlyphs"><tspan font-style="italic">IDH1</tspan><tspan font-size="3.50" dy="-1.98">mut</tspan><tspan dy="1.98"> (n = 91)</tspan></text>
<line x1="368.8" y1="196.6" x2="377.7" y2="196.6" stroke="#c8304c" stroke-width="1.1" stroke-dasharray="3.2,1.8"/>
<text x="381.2" y="199.0" font-size="6.6" text-anchor="start" fill="#151515" textLength="52.6" lengthAdjust="spacingAndGlyphs"><tspan font-style="italic">IDH2</tspan><tspan font-size="3.50" dy="-1.98">mut</tspan><tspan dy="1.98"> (n = 130)</tspan></text>
<line x1="443.8" y1="196.4" x2="452.2" y2="196.4" stroke="#34587f" stroke-width="1.1"/>
<text x="455.5" y="198.8" font-size="6.6" text-anchor="start" fill="#151515" textLength="52.3" lengthAdjust="spacingAndGlyphs"><tspan font-style="italic">IDH</tspan><tspan font-size="3.50" dy="-1.98">WT</tspan><tspan dy="1.98"> (n = 2578)</tspan></text>
<line x1="81.4" y1="422.7" x2="89.6" y2="422.7" stroke="#5aae5e" stroke-width="1.1"/>
<text x="93.5" y="425.09999999999997" font-size="6.6" text-anchor="start" fill="#151515" textLength="52.2" lengthAdjust="spacingAndGlyphs"><tspan font-style="italic">IDH1</tspan><tspan font-size="3.50" dy="-1.98">R132</tspan><tspan dy="1.98"> (n = 91)</tspan></text>
<line x1="158" y1="422.7" x2="166.4" y2="422.7" stroke="#c8304c" stroke-width="1.1"/>
<text x="169.7" y="425.09999999999997" font-size="6.6" text-anchor="start" fill="#151515" textLength="55.0" lengthAdjust="spacingAndGlyphs"><tspan font-style="italic">IDH2</tspan><tspan font-size="3.50" dy="-1.98">R140</tspan><tspan dy="1.98"> (n = 110)</tspan></text>
<line x1="81.4" y1="436.6" x2="89.6" y2="436.6" stroke="#c8304c" stroke-width="1.1" stroke-dasharray="3.2,1.8"/>
<text x="93.5" y="439.0" font-size="6.6" text-anchor="start" fill="#151515" textLength="54.6" lengthAdjust="spacingAndGlyphs"><tspan font-style="italic">IDH2</tspan><tspan font-size="3.50" dy="-1.98">R172K</tspan><tspan dy="1.98"> (n = 19)</tspan></text>
<line x1="158" y1="436.6" x2="166.4" y2="436.6" stroke="#34587f" stroke-width="1.1"/>
<text x="169.7" y="439.0" font-size="6.6" text-anchor="start" fill="#151515" textLength="52.3" lengthAdjust="spacingAndGlyphs"><tspan font-style="italic">IDH</tspan><tspan font-size="3.50" dy="-1.98">WT</tspan><tspan dy="1.98"> (n = 2578)</tspan></text>
<line x1="341.5" y1="422.9" x2="350.4" y2="422.9" stroke="#5aae5e" stroke-width="1.1"/>
<text x="353.6" y="425.29999999999995" font-size="6.6" text-anchor="start" fill="#151515" textLength="52.2" lengthAdjust="spacingAndGlyphs"><tspan font-style="italic">IDH1</tspan><tspan font-size="3.50" dy="-1.98">R132</tspan><tspan dy="1.98"> (n = 91)</tspan></text>
<line x1="418.6" y1="422.9" x2="427.3" y2="422.9" stroke="#c8304c" stroke-width="1.1"/>
<text x="429.5" y="425.29999999999995" font-size="6.6" text-anchor="start" fill="#151515" textLength="55.0" lengthAdjust="spacingAndGlyphs"><tspan font-style="italic">IDH2</tspan><tspan font-size="3.50" dy="-1.98">R140</tspan><tspan dy="1.98"> (n = 110)</tspan></text>
<line x1="341.5" y1="436.5" x2="350.4" y2="436.5" stroke="#c8304c" stroke-width="1.1" stroke-dasharray="3.2,1.8"/>
<text x="353.6" y="438.9" font-size="6.6" text-anchor="start" fill="#151515" textLength="54.6" lengthAdjust="spacingAndGlyphs"><tspan font-style="italic">IDH2</tspan><tspan font-size="3.50" dy="-1.98">R172K</tspan><tspan dy="1.98"> (n = 19)</tspan></text>
<line x1="418.6" y1="436.5" x2="427.3" y2="436.5" stroke="#34587f" stroke-width="1.1"/>
<text x="429.5" y="438.9" font-size="6.6" text-anchor="start" fill="#151515" textLength="52.3" lengthAdjust="spacingAndGlyphs"><tspan font-style="italic">IDH</tspan><tspan font-size="3.50" dy="-1.98">WT</tspan><tspan dy="1.98"> (n = 2578)</tspan></text>
<rect x="0" y="0" width="520" height="1.1" fill="#606060"/>
<rect x="0" y="0" width="1.1" height="448" fill="#606060"/>
<rect x="518.7" y="0" width="1.3" height="448" fill="#606060"/>
<rect x="0" y="446.6" width="520" height="1.4" fill="#606060"/>
</svg></div></body></html>
